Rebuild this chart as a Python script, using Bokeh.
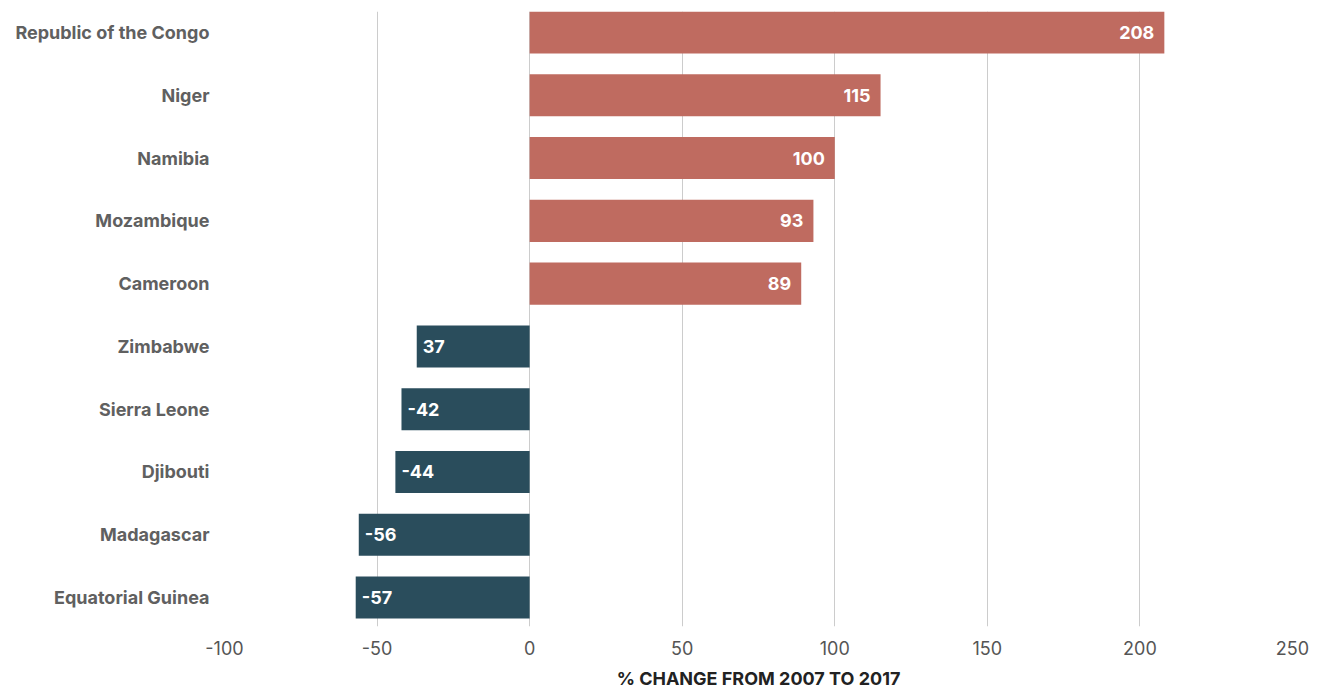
from bokeh.plotting import figure
from bokeh.models import ColumnDataSource, Range1d, FixedTicker
from bokeh.core.properties import value
from bokeh.embed import file_html
from bokeh.resources import INLINE

countries = ["Republic of the Congo", "Niger", "Namibia", "Mozambique", "Cameroon",
             "Zimbabwe", "Sierra Leone", "Djibouti", "Madagascar", "Equatorial Guinea"]
changes = [208, 115, 100, 93, 89, -37, -42, -44, -56, -57]
bar_labels = ["208", "115", "100", "93", "89", "37", "-42", "-44", "-56", "-57"]
x_ticks = [-100, -50, 0, 50, 100, 150, 200, 250]
x_tick_labels = ["-100", "-50", "0", "50", "100", "150", "200", "250"]

POS = "#BF6B60"
NEG = "#2A4D5C"

ypos = list(range(len(countries)))
colors = [POS if v >= 0 else NEG for v in changes]

src = ColumnDataSource(dict(y=ypos, v=changes, c=colors, lab=bar_labels))
pos_src = ColumnDataSource(dict(
    y=[y for y, v in zip(ypos, changes) if v >= 0],
    v=[v for v in changes if v >= 0],
    lab=[l for l, v in zip(bar_labels, changes) if v >= 0]))
neg_src = ColumnDataSource(dict(
    y=[y for y, v in zip(ypos, changes) if v < 0],
    v=[v for v in changes if v < 0],
    lab=[l for l, v in zip(bar_labels, changes) if v < 0]))

p = figure(width=1317, height=691, output_backend="svg", toolbar_location=None,
           x_range=Range1d(-100, 250), y_range=Range1d(9.461, -0.335),
           min_border_left=224, min_border_right=25, min_border_top=11, min_border_bottom=64)
p.outline_line_color = None
p.background_fill_color = "white"

p.hbar(y="y", left=0, right="v", height=0.67, color="c", source=src, line_color=None)

p.text(x="v", y="y", text="lab", source=pos_src, text_align="right", text_baseline="middle",
       x_offset=-10, text_color="white", text_font=value("Inter"), text_font_style="bold",
       text_font_size="18px")
p.text(x="v", y="y", text="lab", source=neg_src, text_align="left", text_baseline="middle",
       x_offset=6, text_color="white", text_font=value("Inter"), text_font_style="bold",
       text_font_size="18px")

p.xaxis.ticker = FixedTicker(ticks=x_ticks)
p.xaxis.major_label_overrides = {t: l for t, l in zip(x_ticks, x_tick_labels)}
p.yaxis.ticker = FixedTicker(ticks=ypos)
p.yaxis.major_label_overrides = {i: c for i, c in enumerate(countries)}

p.xgrid.ticker = FixedTicker(ticks=x_ticks)
p.xgrid.grid_line_color = "#cccccc"
p.xgrid.grid_line_width = 1
p.ygrid.grid_line_color = None

for ax in (p.xaxis, p.yaxis):
    ax.axis_line_color = None
    ax.major_tick_line_color = None
    ax.minor_tick_line_color = None

p.yaxis.major_label_text_font = "Inter"
p.yaxis.major_label_text_font_style = "bold"
p.yaxis.major_label_text_font_size = "18px"
p.yaxis.major_label_text_color = "#606060"
p.yaxis.major_label_standoff = 9

p.xaxis.major_label_text_font = "Inter"
p.xaxis.major_label_text_font_size = "18px"
p.xaxis.major_label_text_color = "#555555"
p.xaxis.major_label_standoff = 8
p.xaxis.axis_label = "% CHANGE FROM 2007 TO 2017"
p.xaxis.axis_label_text_font = "Inter"
p.xaxis.axis_label_text_font_style = "bold"
p.xaxis.axis_label_text_font_size = "18px"
p.xaxis.axis_label_text_color = "#222222"
p.xaxis.axis_label_standoff = 10

open("out.html", "w").write(file_html(p, INLINE))
